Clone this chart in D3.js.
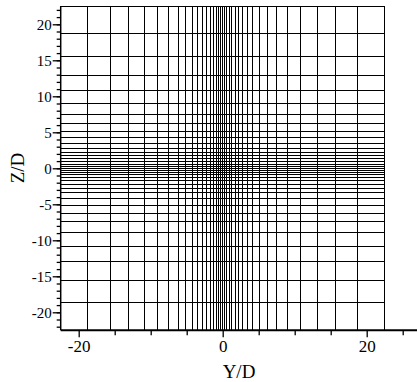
<!DOCTYPE html>
<html><head><meta charset="utf-8">
<script src="https://cdn.jsdelivr.net/npm/d3@7"></script>
<style>body{margin:0;background:#fff}svg{display:block}text{font-family:"Liberation Serif","Times New Roman",serif;fill:#000}</style>
</head><body><svg id="c" width="417" height="382"></svg>
<script>
// Mesh line positions (Y/D for vertical lines, Z/D for horizontal lines)
const yLines = [-22.5, -18.75, -15.6, -13.1, -10.85, -9.0, -7.47, -6.2, -5.1, -4.2, -3.44, -2.75, -2.22, -1.72, -1.28, -0.9, -0.58, -0.3, 0,
                0.3, 0.58, 0.9, 1.28, 1.72, 2.22, 2.75, 3.44, 4.2, 5.1, 6.2, 7.47, 9.0, 10.85, 13.1, 15.6, 18.75, 22.5];
const zLines = [-22.5, -18.7, -15.55, -12.95, -10.8, -8.95, -7.45, -6.25, -5.1, -4.22, -3.42, -2.75, -2.2, -1.72, -1.3, -0.9, -0.58, -0.28, 0,
                0.28, 0.58, 0.9, 1.3, 1.72, 2.2, 2.75, 3.42, 4.22, 5.1, 6.25, 7.45, 8.95, 10.8, 12.95, 15.55, 18.7, 22.5];
const xMajorTicks = [-20, 0, 20];
const xMinorTicks = [-15, -10, -5, 5, 10, 15, 25];
const zMajorTicks = [-20, -15, -10, -5, 0, 5, 10, 15, 20];
const zMinorTicks = d3.range(-22, 23, 1);

const svg = d3.select("#c");
const x = d3.scaleLinear().domain([-22.5, 22.5]).range([60.7, 384.7]);
const y = d3.scaleLinear().domain([-22.5, 22.5]).range([330.3, 6.3]);
const fmt = d => String(d);

const grid = svg.append("g").attr("stroke", "#000").attr("stroke-width", 1).attr("shape-rendering", "crispEdges");
grid.selectAll(".v").data(yLines).join("line")
  .attr("x1", d => x(d)).attr("x2", d => x(d))
  .attr("y1", y(-22.5)).attr("y2", y(22.5));
grid.selectAll(".h").data(zLines).join("line")
  .attr("y1", d => y(d)).attr("y2", d => y(d))
  .attr("x1", x(-22.5)).attr("x2", x(22.5));

// Bottom axis
const axY = y(-22.5);
const gxMinor = svg.append("g").attr("transform", `translate(0,${axY})`)
  .call(d3.axisBottom(x).tickValues(xMinorTicks).tickSize(5).tickFormat(""));
const gxMajor = svg.append("g").attr("transform", `translate(0,${axY})`)
  .call(d3.axisBottom(x).tickValues(xMajorTicks).tickSize(7).tickPadding(3).tickFormat(fmt));
[gxMinor, gxMajor].forEach(g => {
  g.select(".domain").remove();
  g.selectAll("line").attr("stroke", "#000").attr("stroke-width", 1.3);
  g.selectAll("text").style("font-size", "17px").style("font-family", "Liberation Serif, serif");
});
svg.append("line").attr("x1", x(-22.5)).attr("x2", 417).attr("y1", axY).attr("y2", axY)
  .attr("stroke", "#000").attr("stroke-width", 2);

// Left axis
const axX = x(-22.5);
const gyMinor = svg.append("g").attr("transform", `translate(${axX},0)`)
  .call(d3.axisLeft(y).tickValues(zMinorTicks).tickSize(4).tickFormat(""));
const gyMajor = svg.append("g").attr("transform", `translate(${axX},0)`)
  .call(d3.axisLeft(y).tickValues(zMajorTicks).tickSize(8).tickPadding(1).tickFormat(fmt));
[gyMinor, gyMajor].forEach(g => {
  g.select(".domain").remove();
  g.selectAll("line").attr("stroke", "#000").attr("stroke-width", 1.3);
  g.selectAll("text").style("font-size", "15px").style("font-family", "Liberation Serif, serif");
});
svg.append("line").attr("x1", axX).attr("x2", axX).attr("y1", y(22.5)).attr("y2", axY)
  .attr("stroke", "#000").attr("stroke-width", 1.5);

// Titles
svg.append("text").attr("x", 239).attr("y", 378).attr("text-anchor", "middle")
  .style("font-size", "19px").text("Y/D");
svg.append("text").attr("transform", "translate(24,168) rotate(-90)").attr("text-anchor", "middle")
  .style("font-size", "19px").text("Z/D");
</script></body></html>
